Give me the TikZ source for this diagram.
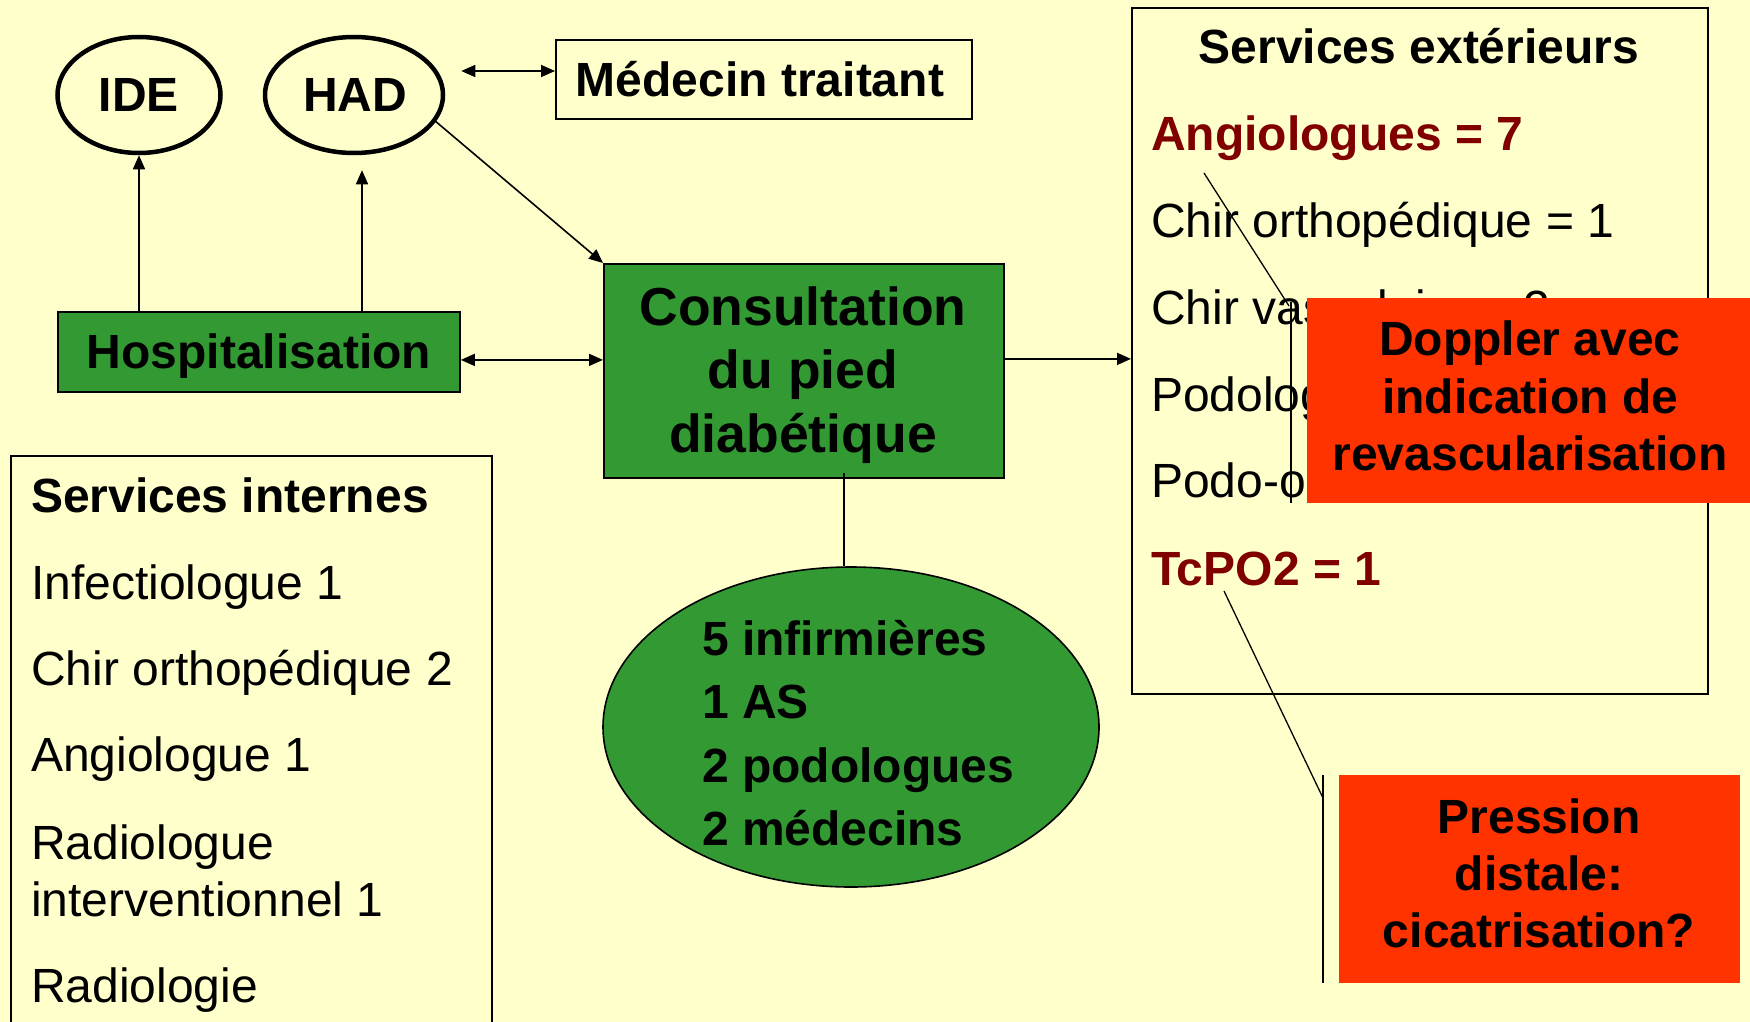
\documentclass[tikz,border=0pt]{standalone}
\usepackage{fontspec}
\setmainfont{Liberation Sans}
\usetikzlibrary{arrows.meta,shapes.geometric,calc}
\definecolor{bg}{HTML}{FFFFCC}
\definecolor{grn}{HTML}{339933}
\definecolor{alert}{HTML}{FF3300}
\definecolor{darkred}{HTML}{800000}
\begin{document}
\begin{tikzpicture}[x=1pt,y=-1pt,
  conn/.style={line width=1.6pt},
  arr/.style={conn, -{Triangle[length=14pt,width=12pt]}},
  darr/.style={conn, {Triangle[length=14pt,width=12pt]}-{Triangle[length=14pt,width=12pt]}},
  oval/.style={ellipse, draw, line width=4.5pt, inner sep=0pt},
  rbox/.style={rectangle, draw, line width=1.8pt, inner sep=0pt, anchor=north west},
  gbox/.style={rbox, fill=grn},
  panel/.style={rbox, fill=bg},
  alertbox/.style={rectangle, fill=alert, inner sep=0pt, anchor=north west},
  txt/.style={inner sep=0pt, anchor=base, font=\fontsize{48}{57}\selectfont},
  txtb/.style={inner sep=0pt, anchor=base, font=\fontsize{48}{57}\selectfont\bfseries},
  txtl/.style={txt, anchor=base west},
  txtbl/.style={txtb, anchor=base west},
  txtbig/.style={inner sep=0pt, anchor=base, font=\fontsize{53.5}{64}\selectfont\bfseries}
]
\useasboundingbox (0,0) rectangle (1750,1022);
\clip (0,0) rectangle (1750,1022);
\fill[bg] (0,0) rectangle (1750,1022);

% panels
\node[panel, minimum width=576pt, minimum height=686pt] (ext) at (1131,7) {};
\node[panel, minimum width=481pt, minimum height=640pt] (int) at (10,455) {};

% external services text
\node[txtb] (extT) at (1419,64) {Services extérieurs};
\node[txtbl, text=darkred] (e1) at (1151,150) {Angiologues = 7};
\node[txtl] (e2) at (1151,237) {Chir orthopédique = 1};
\node[txtl] (e3) at (1151,324) {Chir vasculaire = 2};
\node[txtl] (e4) at (1151,411) {Podologues};
\node[txtl] (e5) at (1151,497) {Podo-orthésistes};
\node[txtbl, text=darkred] (e6) at (1151,585) {TcPO2 = 1};

% internal services text
\node[txtbl] (intT) at (31,512) {Services internes};
\node[txtl] (i1) at (31,599) {Infectiologue 1};
\node[txtl] (i2) at (31,685) {Chir orthopédique 2};
\node[txtl] (i3) at (31,771) {Angiologue 1};
\node[txtl] (i4a) at (31,859) {Radiologue};
\node[txtl] (i4b) at (31,916) {interventionnel 1};
\node[txtl] (i5) at (31,1002) {Radiologie};

% top nodes
\node[oval, minimum width=163pt, minimum height=116pt] (ide) at (139,95) {};
\node[txtb] (ideT) at (139,112) {IDE};
\node[oval, minimum width=178pt, minimum height=116pt] (had) at (354,95) {};
\node[txtb] (hadT) at (355,112) {HAD};
\node[rbox, fill=bg, minimum width=416pt, minimum height=79pt] (med) at (555,39) {};
\node[txtb] (medT) at (760,97) {Médecin traitant};

% hospitalisation
\node[gbox, minimum width=402pt, minimum height=80pt] (hosp) at (57,311) {};
\node[txtb] (hospT) at (259,368) {Hospitalisation};

% consultation
\node[gbox, minimum width=400pt, minimum height=214pt] (cons) at (603,263) {};
\node[txtbig] (c1) at (803,325) {Consultation};
\node[txtbig] (c2) at (803,388) {du pied};
\node[txtbig] (c3) at (803,452) {diabétique};

% team ellipse
\node[ellipse, draw, fill=grn, line width=1.6pt, inner sep=0pt, minimum width=496pt, minimum height=320pt] (team) at (851,727) {};
\node[txtbl] (t1) at (702,655) {5 infirmières};
\node[txtbl] (t2) at (702,718) {1 AS};
\node[txtbl] (t3) at (702,782) {2 podologues};
\node[txtbl] (t4) at (702,845) {2 médecins};

% connectors
\draw[arr] (hosp.north -| ide.south) -- (ide.south);
\coordinate (hadin) at ([xshift=8pt,yshift=-15pt]had.south);
\draw[arr] (hadin |- hosp.north) -- (hadin);
\coordinate (hm) at ([xshift=16pt,yshift=24pt]had.east);
\draw[darr] (hm) -- (hm -| med.west);
\draw[arr] (had.-18) -- (cons.north west);
\coordinate (hc) at ([yshift=-8pt]hosp.east);
\draw[darr] (hc) -- (hc -| cons.west);
\coordinate (ce) at ([yshift=12pt]cons.east);
\draw[arr] (ce) -- (ce -| ext.west);
\coordinate (ct) at ([xshift=40pt,yshift=6pt]cons.south);
\draw[conn] (ct) -- (ct |- team.north);

% callouts
\node[alertbox, minimum width=460pt, minimum height=205pt] (dop) at (1307,298) {};
\node[txtb] (d1) at (1530,355) {Doppler avec};
\node[txtb] (d2) at (1530,413) {indication de};
\node[txtb] (d3) at (1530,470) {revascularisation};
\coordinate (dtip) at (1204,173);
\coordinate (dbt) at ([xshift=-16pt,yshift=-4pt]dop.north west);
\coordinate (dbb) at ([xshift=-16pt]dop.south west);
\draw[conn] (dbt) -- (dbb);
\draw[line width=1.3pt] (dtip) -- ([xshift=-2pt,yshift=-4pt]dbt);

\node[alertbox, minimum width=401pt, minimum height=208pt] (pre) at (1339,775) {};
\node[txtb] (p1) at (1539,833) {Pression};
\node[txtb] (p2) at (1539,890) {distale:};
\node[txtb] (p3) at (1539,947) {cicatrisation?};
\coordinate (ptip) at (1224,591);
\coordinate (pbt) at ([xshift=-16pt]pre.north west);
\coordinate (pbb) at ([xshift=-16pt]pre.south west);
\draw[conn] (pbt) -- (pbb);
\draw[line width=1.3pt] (ptip) -- ([yshift=-23pt]pbt);
\end{tikzpicture}
\end{document}
